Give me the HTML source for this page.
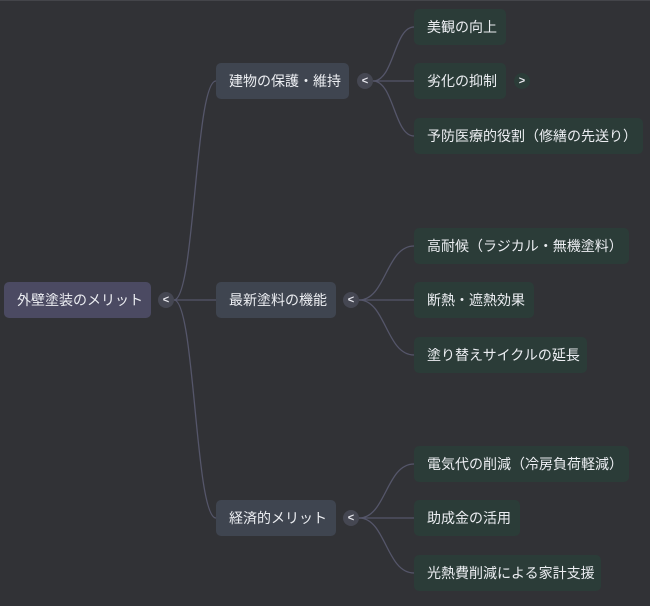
<!DOCTYPE html>
<html><head><meta charset="utf-8"><style>
body{margin:0;width:650px;height:606px;background:#313236;overflow:hidden;font-family:"Liberation Sans","Noto Sans CJK JP",sans-serif;}
.n{position:absolute;height:36px;line-height:36px;border-radius:5px;color:#eceef2;font-size:14px;padding:0 13px;box-sizing:border-box;white-space:nowrap}
.r{background:#4b4a62}.a{background:#3f4550}.c{background:#2b3c38}
.t{position:absolute;width:16px;height:16px;border-radius:8px;background:#454752;color:#e8e8ee;font-size:11px;font-weight:bold;line-height:16px;text-align:center}
svg{position:absolute;left:0;top:0}
</style></head><body>
<svg width="650" height="606" fill="none" stroke="#55566a" stroke-width="1.3">
<path d="M174 300 C195 300 195 81 216 81"/>
<path d="M174 300 L216 300"/>
<path d="M174 300 C195 300 195 518 216 518"/>
<path d="M373 81 C394 81 394 27 414 27"/><path d="M373 81 L414 81"/><path d="M373 81 C394 81 394 136 414 136"/>
<path d="M359 300 C386 300 386 246 414 246"/><path d="M359 300 L414 300"/><path d="M359 300 C386 300 386 355 414 355"/>
<path d="M359 518 C386 518 386 464 414 464"/><path d="M359 518 L414 518"/><path d="M359 518 C386 518 386 573 414 573"/>
</svg>
<div style="position:absolute;left:0;top:0;width:650px;height:1px;background:#44454a"></div>
<div class="n r" style="left:4px;top:282px;width:147px">外壁塗装のメリット</div>
<div class="t" style="left:158px;top:292px">&lt;</div>
<div class="n a" style="left:216px;top:63px;width:133px">建物の保護・維持</div>
<div class="t" style="left:357px;top:73px">&lt;</div>
<div class="n a" style="left:216px;top:282px;width:120px">最新塗料の機能</div>
<div class="t" style="left:343px;top:292px">&lt;</div>
<div class="n a" style="left:216px;top:500px;width:120px">経済的メリット</div>
<div class="t" style="left:343px;top:510px">&lt;</div>
<div class="n c" style="left:414px;top:9px;width:92px">美観の向上</div>
<div class="n c" style="left:414px;top:63px;width:92px">劣化の抑制</div>
<div class="t" style="left:514px;top:73px;background:#2b3c38">&gt;</div>
<div class="n c" style="left:414px;top:118px;width:229px">予防医療的役割（修繕の先送り）</div>
<div class="n c" style="left:414px;top:228px;width:215px">高耐候（ラジカル・無機塗料）</div>
<div class="n c" style="left:414px;top:282px;width:120px">断熱・遮熱効果</div>
<div class="n c" style="left:414px;top:337px;width:173px">塗り替えサイクルの延長</div>
<div class="n c" style="left:414px;top:446px;width:215px">電気代の削減（冷房負荷軽減）</div>
<div class="n c" style="left:414px;top:500px;width:106px">助成金の活用</div>
<div class="n c" style="left:414px;top:555px;width:187px">光熱費削減による家計支援</div>
</body></html>
